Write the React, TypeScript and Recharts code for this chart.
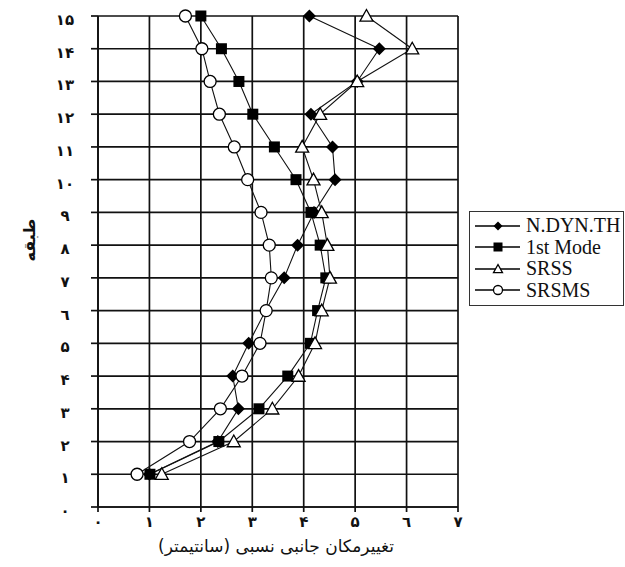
// @ts-nocheck
import { ScatterChart, Scatter, XAxis, YAxis, CartesianGrid, Legend } from 'recharts';

// floor numbers and relative lateral displacement (cm) per method
const floors = [1, 2, 3, 4, 5, 6, 7, 8, 9, 10, 11, 12, 13, 14, 15];
const ndynTh = [1.0, 2.33, 2.73, 2.62, 2.93, 3.26, 3.62, 3.88, 4.2, 4.61, 4.56, 4.14, 5.04, 5.47, 4.11];
const firstMode = [1.01, 2.35, 3.13, 3.69, 4.13, 4.27, 4.43, 4.32, 4.14, 3.85, 3.43, 3.01, 2.74, 2.4, 2.0];
const srss = [1.24, 2.64, 3.39, 3.9, 4.22, 4.35, 4.51, 4.46, 4.35, 4.19, 3.97, 4.32, 5.04, 6.11, 5.22];
const srsms = [0.76, 1.78, 2.38, 2.8, 3.15, 3.27, 3.37, 3.33, 3.17, 2.91, 2.65, 2.36, 2.18, 2.02, 1.7];

const xTicks = [0, 1, 2, 3, 4, 5, 6, 7];
const yTicks = [0, 1, 2, 3, 4, 5, 6, 7, 8, 9, 10, 11, 12, 13, 14, 15];

const digits = '۰۱۲۳۴۵٦۷۸۹';
const fa = (n) => String(n).replace(/\d/g, (d) => digits[+d]);

const toPoints = (vals) => vals.map((v, i) => ({ x: v, y: floors[i] }));

const Diamond = ({ cx, cy, s = 6.5 }) => (
  <polygon points={`${cx},${cy - s} ${cx + s},${cy} ${cx},${cy + s} ${cx - s},${cy}`} fill="#000" />
);
const Square = ({ cx, cy, s = 5.5 }) => (
  <rect x={cx - s} y={cy - s} width={s * 2} height={s * 2} fill="#000" />
);
const Triangle = ({ cx, cy, s = 6.5 }) => (
  <polygon
    points={`${cx},${cy - s} ${cx + s},${cy + s * 0.8} ${cx - s},${cy + s * 0.8}`}
    fill="#fff"
    stroke="#000"
    strokeWidth={1.3}
  />
);
const Circle = ({ cx, cy, s = 6 }) => (
  <circle cx={cx} cy={cy} r={s} fill="#fff" stroke="#000" strokeWidth={1.3} />
);

const series = [
  { name: 'N.DYN.TH', values: ndynTh, Mark: Diamond },
  { name: '1st Mode', values: firstMode, Mark: Square },
  { name: 'SRSS', values: srss, Mark: Triangle },
  { name: 'SRSMS', values: srsms, Mark: Circle },
];

const XTick = ({ x, y, payload }) => (
  <text x={x} y={y + 13} textAnchor="middle" fontFamily="DejaVu Sans" fontWeight="bold" fontSize={15} fill="#111">
    {fa(payload.value)}
  </text>
);

const YTick = ({ x, y, payload }) => (
  <text x={x - 24} y={y + 9} textAnchor="middle" fontFamily="DejaVu Sans" fontWeight="bold" fontSize={15} fill="#111">
    {fa(payload.value)}
  </text>
);

const LegendBox = () => (
  <div
    style={{
      border: '1.5px solid #333',
      background: '#fff',
      padding: '3px 0 4px 0',
      fontFamily: '"Liberation Serif", serif',
      fontSize: 20,
      lineHeight: '21.5px',
      color: '#111',
    }}
  >
    {series.map(({ name, Mark }) => (
      <div key={name} style={{ display: 'flex', alignItems: 'center' }}>
        <svg width={56} height={20} style={{ flex: 'none' }}>
          <line x1={5} y1={10} x2={50} y2={10} stroke="#000" strokeWidth={1.3} />
          <Mark cx={28} cy={10} s={4.5} />
        </svg>
        <span>{name}</span>
      </div>
    ))}
  </div>
);

export default function App() {
  return (
    <div style={{ position: 'absolute', left: 0, top: 0, width: 625, height: 567, background: '#fff' }}>
      <ScatterChart width={625} height={567} margin={{ top: 16, right: 167, bottom: 30, left: 38 }}>
        <CartesianGrid stroke="#111" strokeWidth={1.7} />
        <XAxis
          type="number"
          dataKey="x"
          domain={[0, 7]}
          ticks={xTicks}
          interval={0}
          height={30}
          tick={<XTick />}
          tickSize={5}
          axisLine={{ stroke: '#111', strokeWidth: 1.7 }}
          tickLine={{ stroke: '#111', strokeWidth: 1.7 }}
          label={{
            value: 'تغییرمکان جانبی نسبی (سانتیمتر)',
            position: 'insideBottom',
            dy: 20,
            dx: -2,
            direction: 'rtl',
            fontFamily: 'DejaVu Sans',
            fontSize: 17,
            fill: '#111',
          }}
        />
        <YAxis
          type="number"
          dataKey="y"
          domain={[0, 15]}
          ticks={yTicks}
          interval={0}
          width={60}
          tick={<YTick />}
          tickSize={7}
          axisLine={{ stroke: '#111', strokeWidth: 1.7 }}
          tickLine={{ stroke: '#111', strokeWidth: 1.7 }}
          label={{
            value: 'طبقه',
            angle: -90,
            position: 'insideLeft',
            dx: -14,
            dy: 0,
            fontFamily: 'DejaVu Sans',
            fontWeight: 'bold',
            fontSize: 16,
            fill: '#111',
          }}
        />
        <Legend
          layout="vertical"
          align="center"
          verticalAlign="middle"
          content={() => <LegendBox />}
          wrapperStyle={{ left: 469, top: 211, width: 155, height: 94 }}
        />
        {series.map(({ name, values, Mark }) => (
          <Scatter
            key={name}
            name={name}
            data={toPoints(values)}
            line={{ stroke: '#111', strokeWidth: 1.1 }}
            lineType="joint"
            shape={(p) => <Mark cx={p.cx} cy={p.cy} />}
            isAnimationActive={false}
          />
        ))}
      </ScatterChart>
    </div>
  );
}
